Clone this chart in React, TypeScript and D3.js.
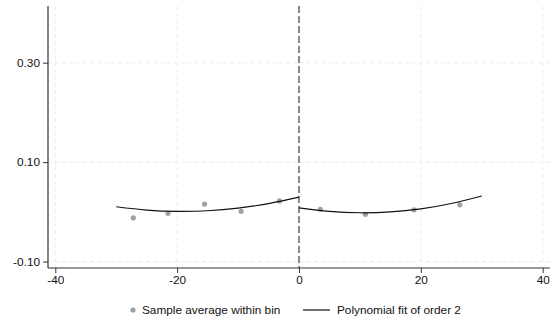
import * as d3 from "d3";
import React, { useRef, useEffect } from "react";

const mainWidth = 551;
const mainHeight = 322;

// bin averages
const binX = [-27.2, -21.5, -15.5, -9.5, -3.2, 3.5, 10.9, 18.9, 26.4];
const binY = [-0.012, -0.003, 0.0156, 0.001, 0.022, 0.005, -0.005, 0.004, 0.014];

// fitted curve, sampled on each side of the cutoff
const fitLeftX = [-30, -25, -20, -15, -10, -5, 0];
const fitLeftY = [0.0102, 0.0036, 0.001, 0.0022, 0.0074, 0.0166, 0.0296];
const fitRightX = [0, 5, 10, 15, 20, 25, 30];
const fitRightY = [0.0081, 0.0009, -0.0019, -0.0002, 0.006, 0.0167, 0.0319];

const xTicks = [-40, -20, 0, 20, 40];
const yTicks = [-0.1, 0.1, 0.3];

const legendLabels = ["Sample average within bin", "Polynomial fit of order 2"];

const font = "Liberation Sans, Arial, sans-serif";

// plain hyphen for negatives, like the original
const hyphen = (f: (n: number) => string) => (d: d3.NumberValue) =>
  f(+d).replace("\u2212", "-");

function App() {
  const ref = useRef<SVGSVGElement>(null);

  useEffect(() => {
    const svg = d3.select(ref.current);
    svg.selectAll("*").remove();

    const x = d3.scaleLinear().domain([-41.2, 41.2]).range([48, 550]);
    const y = d3.scaleLinear().domain([-0.113, 0.414]).range([268, 6]);

    // grid
    const grid = svg.append("g");
    grid
      .selectAll("line.gx")
      .data(xTicks.filter((d) => d !== 0))
      .join("line")
      .attr("x1", (d) => x(d))
      .attr("x2", (d) => x(d))
      .attr("y1", y.range()[1])
      .attr("y2", y.range()[0])
      .attr("stroke", "#ececec")
      .attr("stroke-width", 1)
      .attr("stroke-dasharray", "4,3");
    grid
      .selectAll("line.gy")
      .data(yTicks)
      .join("line")
      .attr("x1", x.range()[0])
      .attr("x2", x.range()[1])
      .attr("y1", (d) => y(d))
      .attr("y2", (d) => y(d))
      .attr("stroke", "#ececec")
      .attr("stroke-width", 1)
      .attr("stroke-dasharray", "4,3");

    // cutoff
    svg
      .append("line")
      .attr("x1", x(0))
      .attr("x2", x(0))
      .attr("y1", y.range()[1])
      .attr("y2", y.range()[0])
      .attr("stroke", "#777")
      .attr("stroke-width", 1.7)
      .attr("stroke-dasharray", "7,3");

    // axes
    const xAxis = svg
      .append("g")
      .attr("transform", `translate(0,${y.range()[0]})`)
      .call(d3.axisBottom(x).tickValues(xTicks).tickSize(5).tickPadding(3).tickFormat(hyphen(d3.format("d"))));
    const yAxis = svg
      .append("g")
      .attr("transform", `translate(${x.range()[0]},0)`)
      .call(d3.axisLeft(y).tickValues(yTicks).tickSize(5).tickPadding(3).tickFormat(hyphen(d3.format(".2f"))));
    [xAxis, yAxis].forEach((a) => {
      a.select(".domain").attr("stroke", "#333").attr("stroke-width", 1.2);
      a.selectAll(".tick line").attr("stroke", "#333");
      a.selectAll(".tick text")
        .attr("fill", "#111")
        .style("font-family", font)
        .style("font-size", "11.8px");
    });
    xAxis.select(".domain").attr("d", `M${x.range()[0]},0H${x.range()[1]}`);
    yAxis.select(".domain").attr("d", `M0,${y.range()[0]}V${y.range()[1]}`);

    // bin averages
    svg
      .append("g")
      .selectAll("circle")
      .data(binX.map((d, i) => [d, binY[i]]))
      .join("circle")
      .attr("cx", (d) => x(d[0]))
      .attr("cy", (d) => y(d[1]))
      .attr("r", 2.6)
      .attr("fill", "#a0a0a0");

    // fits
    const line = d3
      .line<number[]>()
      .x((d) => x(d[0]))
      .y((d) => y(d[1]))
      .curve(d3.curveNatural);
    [
      fitLeftX.map((d, i) => [d, fitLeftY[i]]),
      fitRightX.map((d, i) => [d, fitRightY[i]]),
    ].forEach((pts) => {
      svg
        .append("path")
        .attr("d", line(pts))
        .attr("fill", "none")
        .attr("stroke", "#111")
        .attr("stroke-width", 1.2);
    });

    // legend
    const legend = svg.append("g").style("font-family", font).style("font-size", "11.8px");
    legend.append("circle").attr("cx", 133).attr("cy", 310).attr("r", 2.6).attr("fill", "#a0a0a0");
    legend.append("text").attr("x", 142).attr("y", 314).attr("fill", "#111").text(legendLabels[0]);
    legend
      .append("line")
      .attr("x1", 303)
      .attr("x2", 330)
      .attr("y1", 310)
      .attr("y2", 310)
      .attr("stroke", "#111")
      .attr("stroke-width", 1.2);
    legend.append("text").attr("x", 337).attr("y", 314).attr("fill", "#111").text(legendLabels[1]);
  }, []);

  return (
    <svg
      ref={ref}
      width={mainWidth}
      height={mainHeight}
      style={{ position: "absolute", left: 0, top: 0, background: "#fff" }}
    ></svg>
  );
}

export default App;
